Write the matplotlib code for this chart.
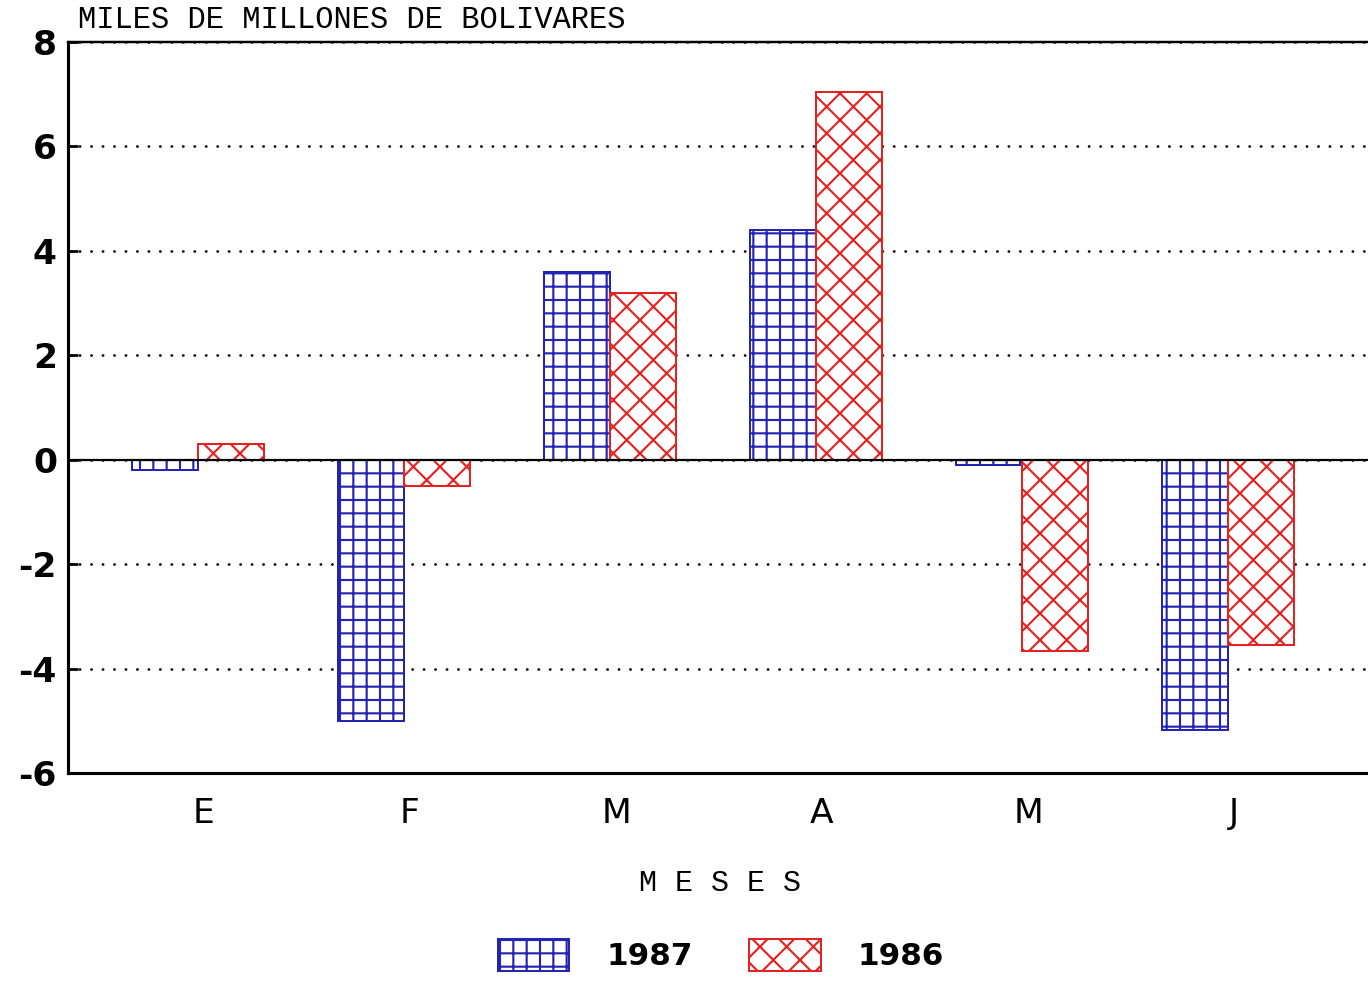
import numpy as np
import matplotlib
matplotlib.use('Agg')
import matplotlib.pyplot as plt

# datos (miles de millones de bolivares)
meses = ['E', 'F', 'M', 'A', 'M', 'J']
v1987 = [-0.2, -5.0, 3.6, 4.4, -0.1, -5.18]
v1986 = [0.3, -0.5, 3.2, 7.05, -3.67, -3.55]
yticks = [-6, -4, -2, 0, 2, 4, 6, 8]

AZUL = '#2323b4'
ROJO = '#e42222'

# dpi 80 -> hatch tile of 80px, close to the scanned grid spacing
DPI = 80
plt.rcParams['hatch.linewidth'] = 1.9

fig = plt.figure(figsize=(1368 / DPI, 981 / DPI), dpi=DPI)
ax = fig.add_axes([68 / 1368, 1 - 773 / 981, 1 - 68 / 1368, (773 - 42) / 981])

x = np.arange(len(meses))
w = 0.32
b1 = ax.bar(x, v1987, width=-w, align='edge', facecolor='white',
            edgecolor=AZUL, hatch='+', linewidth=1.8, label='1987', zorder=3)
b2 = ax.bar(x, v1986, width=w, align='edge', facecolor='white',
            edgecolor=ROJO, hatch='x', linewidth=1.8, label='1986', zorder=3)

ax.axhline(0, color='black', lw=2, zorder=4)

ax.set_xlim(-0.63, 5.68)
ax.set_ylim(-6, 8)
ax.set_yticks(yticks)
ax.set_yticklabels([str(t) for t in yticks], fontsize=31, fontweight='bold')
ax.set_xticks(x + 0.03)
ax.set_xticklabels(meses, fontsize=31)

ax.tick_params(axis='y', direction='in', length=9, width=2.5, pad=10)
ax.tick_params(axis='x', length=0, pad=22)

ax.grid(axis='y', color='black', linestyle=(0, (0.1, 4.2)), linewidth=2.4,
        dash_capstyle='round')
ax.set_axisbelow(True)

ax.spines['right'].set_visible(False)
for s in ['left', 'bottom']:
    ax.spines[s].set_linewidth(2.8)
ax.spines['top'].set_linewidth(2.2)

fig.text(78 / 1368, 1 - 20 / 981, 'MILES DE MILLONES DE BOLIVARES',
         family='Liberation Mono', fontsize=27.5, va='center', ha='left')
fig.text(720 / 1368, 1 - 883 / 981, 'M E S E S',
         family='Liberation Mono', fontsize=27, va='center', ha='center')

fig.legend(handles=[b1, b2], loc='center',
           bbox_to_anchor=(721 / 1368, 1 - 955 / 981), ncol=2, frameon=False,
           prop={'size': 28, 'weight': 'bold'},
           handlelength=2.3, handleheight=1.2, handletextpad=1.2,
           columnspacing=1.8)

fig.savefig('out.png', dpi=DPI)
